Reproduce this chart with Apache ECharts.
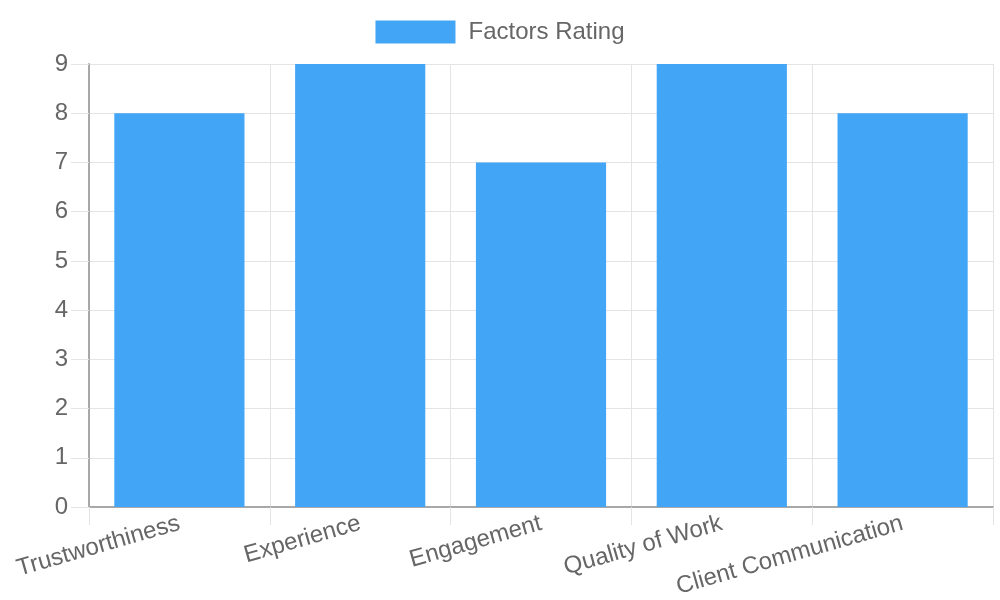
<!DOCTYPE html>
<html>
<head>
<meta charset="utf-8">
<script src="https://cdn.jsdelivr.net/npm/echarts@6/dist/echarts.min.js"></script>
<style>
  html, body { margin: 0; padding: 0; background: #fff; }
  #chart { width: 1000px; height: 600px; }
</style>
</head>
<body>
<div id="chart"></div>
<script>
// data
const categories = ["Trustworthiness", "Experience", "Engagement", "Quality of Work", "Client Communication"];
const ratings = [8, 9, 7, 9, 8];
const seriesName = "Factors Rating";

const FONT = "'Liberation Sans', Arial, Helvetica, sans-serif";
const TEXT = "#666";
const GRID = "#e4e4e4";
const AXIS = "#a8a8a8";
const BAR = "#42a5f5";

const chart = echarts.init(document.getElementById("chart"), null, { renderer: "canvas" });
chart.setOption({
  animation: false,
  textStyle: { fontFamily: FONT },
  legend: {
    top: 15,
    left: "center",
    itemWidth: 80,
    itemHeight: 23,
    itemGap: 10,
    icon: "rect",
    textStyle: { fontSize: 24, color: TEXT, fontFamily: FONT, padding: [0, 0, 0, 8] },
    data: [seriesName],
  },
  grid: { left: 89, right: 7, top: 64, bottom: 93, containLabel: false, outerBoundsMode: "none" },
  xAxis: {
    type: "category",
    data: categories,
    boundaryGap: true,
    axisLine: { show: true, lineStyle: { color: AXIS, width: 2 } },
    axisTick: { show: true, length: 18, lineStyle: { color: GRID, width: 1 } },
    splitLine: { show: true, lineStyle: { color: GRID, width: 1 } },
    axisLabel: {
      rotate: 16,
      margin: 16,
      fontSize: 24,
      color: TEXT,
      fontFamily: FONT,
      interval: 0,
    },
  },
  yAxis: {
    type: "value",
    min: 0,
    max: 9,
    interval: 1,
    axisLine: { show: true, lineStyle: { color: AXIS, width: 2 } },
    axisTick: { show: true, length: 18, lineStyle: { color: GRID, width: 1 } },
    splitLine: { show: true, lineStyle: { color: GRID, width: 1 } },
    axisLabel: { fontSize: 24, color: TEXT, fontFamily: FONT, margin: 21 },
  },
  series: [
    {
      name: seriesName,
      type: "bar",
      data: ratings,
      barCategoryGap: "28%",
      itemStyle: { color: BAR },
    },
  ],
});
</script>
</body>
</html>
